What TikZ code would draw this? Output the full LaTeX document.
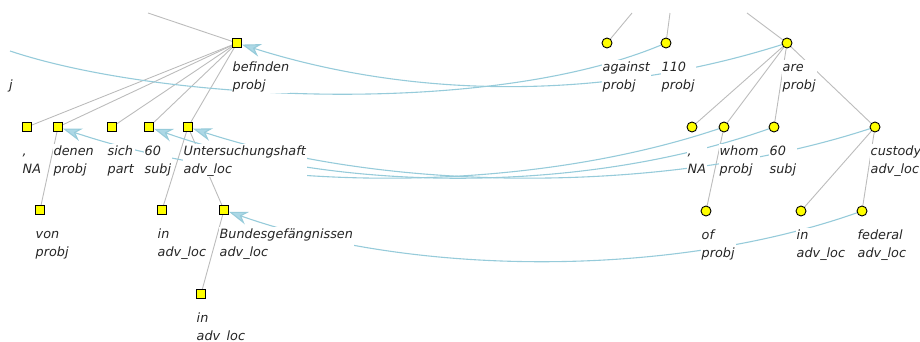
\documentclass[tikz,border=0pt]{standalone}
\usepackage{fontspec}
\setmainfont{DejaVu Sans}
\usetikzlibrary{arrows.meta}
\usetikzlibrary{backgrounds}

\definecolor{treegray}{RGB}{188,188,188}
\definecolor{alnblue}{RGB}{150,203,218}
\definecolor{alnfill}{RGB}{172,216,230}
\definecolor{tokyel}{RGB}{255,255,0}

\tikzset{
  gtok/.style={rectangle, draw=black, fill=tokyel, line width=0.9pt, minimum size=9pt, inner sep=0pt},
  etok/.style={circle, draw=black, fill=tokyel, line width=0.9pt, minimum size=10pt, inner sep=0pt},
  lab/.style={font=\fontsize{12.8}{18}\selectfont\itshape, text=black!85, fill=white,
              align=left, anchor=north west, inner sep=1pt},
  dep/.style={treegray, line width=0.9pt},
  aln/.style={alnblue, line width=1.1pt},
  alnarr/.style={aln, -{Stealth[length=19pt,width=13pt,inset=6pt,fill=alnfill]}},
}

\begin{document}
\begin{tikzpicture}[x=1pt, y=-1pt]
\useasboundingbox (0,0) rectangle (920,341);

% german side
\foreach \n/\x/\y/\w/\r in {bef/237/43/befinden/probj, gcom/27/127/{,}/NA, denen/58/127/denen/probj,
    sich/112/127/sich/part, gsixty/149/127/60/subj, unters/188/127/Untersuchungshaft/adv\_loc,
    von/40/210/von/probj, gin/162/210/in/adv\_loc, bundes/224/210/Bundesgefängnissen/adv\_loc,
    gintwo/201/294/in/adv\_loc} {
 \node[gtok] (\n) at (\x,\y) {};
 \node[lab] (\n-l) at (\x-5.5,\y+17) {\rule{0pt}{10pt}\w\\\r};
}
% english side
\foreach \n/\x/\y/\w/\r in {against/607/43/against/probj, etenten/666/43/110/probj, are/787/43/are/probj,
    ecom/692/127/{,}/NA, whom/724/127/whom/probj, esixty/774/127/60/subj,
    custody/875/127/custody/adv\_loc, of/706/211/of/probj, ein/801/211/in/adv\_loc,
    federal/862/211/federal/adv\_loc} {
 \node[etok] (\n) at (\x,\y) {};
 \node[lab] (\n-l) at (\x-5.5,\y+17) {\rule{0pt}{10pt}\w\\\r};
}
\node[lab, anchor=base east] (offj) at (14,89) {j};

\coordinate (topbef) at (148,13);
\coordinate (topagainst) at (632,13);
\coordinate (topten) at (670,13);
\coordinate (topare) at (747,13);
\coordinate (offl) at (10,51);

\begin{scope}[on background layer]
\foreach \a/\b in {bef/topbef, bef/gcom, bef/denen, bef/sich, bef/gsixty, bef/unters,
    denen/von, unters/gin, unters/bundes, bundes/gintwo,
    against/topagainst, etenten/topten, are/topare, are/ecom, are/whom, are/esixty, are/custody,
    whom/of, custody/ein, custody/federal} {
 \draw[dep] (\a) -- (\b);
}
% alignment links
\draw[alnarr] (are) .. controls +(-180,57) and +(180,57) .. (bef);
\draw[aln] (etenten) .. controls +(-180,75) and +(150,50) .. (offl);
\draw[alnarr] (whom) .. controls +(-200,67) and +(200,67) .. (denen);
\draw[alnarr] (esixty) .. controls +(-190,67) and +(190,67) .. (gsixty);
\draw[alnarr] (custody) .. controls +(-205,67) and +(205,67) .. (unters);
\draw[alnarr] (federal) .. controls +(-190,67) and +(190,67) .. (bundes);
\end{scope}
\end{tikzpicture}
\end{document}
